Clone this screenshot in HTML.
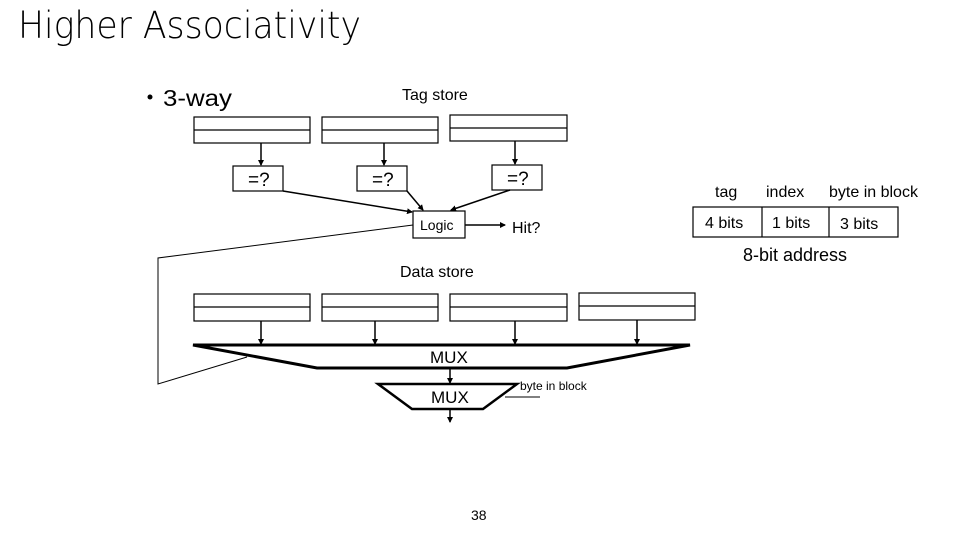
<!DOCTYPE html>
<html><head><meta charset="utf-8"><style>
html,body{margin:0;padding:0;background:#fff;}
svg{display:block;}
text{font-family:"Liberation Sans",Arial,sans-serif;fill:#000;}
</style></head><body>
<svg width="960" height="540" viewBox="0 0 960 540" xmlns="http://www.w3.org/2000/svg">
<defs><marker id="a" markerWidth="6" markerHeight="6" refX="5" refY="3" orient="auto" markerUnits="userSpaceOnUse"><path d="M0,0 L6,3 L0,6z" fill="#000"/></marker></defs>
<text x="18" y="38" font-size="37" style="font-family:'DejaVu Sans','Liberation Sans',sans-serif;font-weight:200" textLength="343" lengthAdjust="spacingAndGlyphs">Higher Associativity</text>
<circle cx="150" cy="97" r="2.5" fill="#000"/>
<text x="163" y="106" font-size="23" textLength="69" lengthAdjust="spacingAndGlyphs">3-way</text>
<text x="402" y="100" font-size="16">Tag store</text>
<g fill="none" stroke="#000" stroke-width="1.2">
<rect x="194" y="117" width="116" height="26"/><line x1="194" y1="130" x2="310" y2="130"/>
<rect x="322" y="117" width="116" height="26"/><line x1="322" y1="130" x2="438" y2="130"/>
<rect x="450" y="115" width="117" height="26"/><line x1="450" y1="128" x2="567" y2="128"/>
<rect x="233" y="166" width="50" height="25"/>
<rect x="357" y="166" width="50" height="25"/>
<rect x="492" y="165" width="50" height="25"/>
<rect x="413" y="211" width="52" height="27"/>
<rect x="194" y="294" width="116" height="27"/><line x1="194" y1="307" x2="310" y2="307"/>
<rect x="322" y="294" width="116" height="27"/><line x1="322" y1="307" x2="438" y2="307"/>
<rect x="450" y="294" width="117" height="27"/><line x1="450" y1="307" x2="567" y2="307"/>
<rect x="579" y="293" width="116" height="27"/><line x1="579" y1="306" x2="695" y2="306"/>
</g>
<g stroke="#000" stroke-width="1.5" fill="none" marker-end="url(#a)">
<line x1="261" y1="143" x2="261" y2="165"/>
<line x1="384" y1="143" x2="384" y2="165"/>
<line x1="515" y1="141" x2="515" y2="164"/>
<line x1="283" y1="191" x2="412" y2="212"/>
<line x1="407" y1="191" x2="423" y2="210"/>
<line x1="510" y1="190" x2="451" y2="210"/>
<line x1="465" y1="225" x2="505" y2="225"/>
<line x1="261" y1="321" x2="261" y2="344"/>
<line x1="375" y1="321" x2="375" y2="344"/>
<line x1="515" y1="321" x2="515" y2="344"/>
<line x1="637" y1="320" x2="637" y2="344"/>
<line x1="450" y1="368" x2="450" y2="383"/>
<line x1="450" y1="409" x2="450" y2="422"/>
</g>
<polyline points="413,225 158,258 158,384 247,357" fill="none" stroke="#000" stroke-width="1"/>
<polygon points="193,345 690,345 567,368 317,368" fill="none" stroke="#000" stroke-width="3"/>
<polygon points="378,384 517,384 483,409 412,409" fill="none" stroke="#000" stroke-width="2.5"/>
<line x1="505" y1="397" x2="540" y2="397" stroke="#000" stroke-width="1"/>
<text x="520" y="390" font-size="12">byte in block</text>
<text x="430" y="363" font-size="17">MUX</text>
<text x="431" y="403" font-size="17">MUX</text>
<text x="248" y="186" font-size="19">=?</text>
<text x="372" y="186" font-size="19">=?</text>
<text x="507" y="185" font-size="19">=?</text>
<text x="420" y="230" font-size="14">Logic</text>
<text x="512" y="233" font-size="16">Hit?</text>
<text x="400" y="277" font-size="16">Data store</text>
<text x="715" y="197" font-size="16">tag</text>
<text x="766" y="197" font-size="16">index</text>
<text x="829" y="197" font-size="16">byte in block</text>
<g fill="none" stroke="#000" stroke-width="1.2">
<rect x="693" y="207" width="205" height="30"/>
<line x1="762" y1="207" x2="762" y2="237"/>
<line x1="829" y1="207" x2="829" y2="237"/>
</g>
<text x="705" y="228" font-size="16">4 bits</text>
<text x="772" y="228" font-size="16">1 bits</text>
<text x="840" y="229" font-size="16">3 bits</text>
<text x="743" y="261" font-size="18">8-bit address</text>
<text x="471" y="520" font-size="14">38</text>
</svg>
</body></html>
